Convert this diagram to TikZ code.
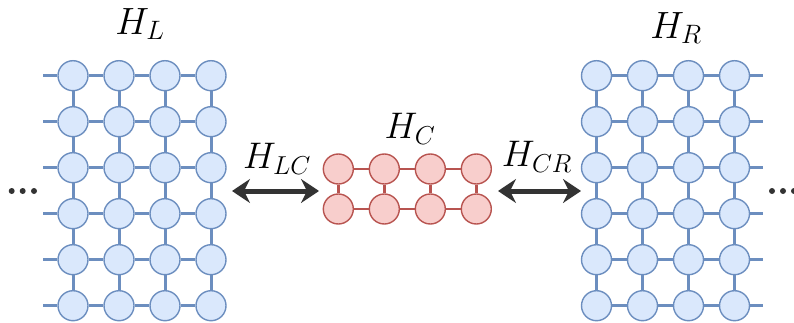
\RequirePackage{fix-cm}
\documentclass[tikz,border=0pt]{standalone}
\usetikzlibrary{arrows.meta}
\definecolor{bfill}{HTML}{DAE8FC}
\definecolor{bline}{HTML}{6C8EBF}
\definecolor{rfill}{HTML}{F8CECC}
\definecolor{rline}{HTML}{B85450}
\definecolor{dark}{HTML}{333333}
\tikzset{
  bsite/.style={circle, minimum size=30pt, inner sep=0pt, fill=bfill, draw=bline, line width=1.4pt},
  rsite/.style={circle, minimum size=30pt, inner sep=0pt, fill=rfill, draw=rline, line width=1.4pt},
  bbond/.style={draw=bline, line width=3pt},
  rbond/.style={draw=rline, line width=2.8pt},
  coup/.style={draw=dark, line width=5pt, {Stealth[length=18pt,width=24pt,inset=6pt]}-{Stealth[length=18pt,width=24pt,inset=6pt]}},
  biglbl/.style={font=\fontsize{38}{44}\selectfont, inner sep=0pt},
  lbl/.style={font=\fontsize{37}{42}\selectfont, inner sep=0pt},
}
\begin{document}
\begin{tikzpicture}[x=1pt,y=-1pt]
\useasboundingbox (0,0) rectangle (794,323);
% lattices
\foreach \c/\x in {1/73,2/119,3/165,4/211}{
  \foreach \r/\y in {1/75.7,2/121.7,3/167.7,4/213.7,5/259.7,6/305.7}{
    \node[bsite] (L-\c-\r) at (\x,\y) {};
    \node[bsite] (R-\c-\r) at (\x+523.5,\y) {};
  }}
\foreach \r/\y in {1/75.7,2/121.7,3/167.7,4/213.7,5/259.7,6/305.7}{
  \coordinate (Ls-\r) at (43,\y);
  \coordinate (Rs-\r) at (763,\y);
  \draw[bbond] (Ls-\r) -- (L-1-\r);
  \draw[bbond] (R-4-\r) -- (Rs-\r);
}
\foreach \c [evaluate=\c as \n using int(\c+1)] in {1,2,3}{
  \foreach \r in {1,...,6}{
    \draw[bbond] (L-\c-\r) -- (L-\n-\r);
    \draw[bbond] (R-\c-\r) -- (R-\n-\r);
  }}
\foreach \c in {1,...,4}{
  \foreach \r [evaluate=\r as \m using int(\r+1)] in {1,...,5}{
    \draw[bbond] (L-\c-\r) -- (L-\c-\m);
    \draw[bbond] (R-\c-\r) -- (R-\c-\m);
  }}
% center
\foreach \c/\x in {1/338.3,2/384.3,3/430.3,4/476.3}{
  \node[rsite] (C-\c-1) at (\x,169) {};
  \node[rsite] (C-\c-2) at (\x,209) {};
  \draw[rbond] (C-\c-1) -- (C-\c-2);
}
\foreach \c [evaluate=\c as \n using int(\c+1)] in {1,2,3}{
  \draw[rbond] (C-\c-1) -- (C-\n-1);
  \draw[rbond] (C-\c-2) -- (C-\n-2);
}
% labels
\node[biglbl] (HL) at (140,24) {$H_L$};
\node[biglbl] (HR) at (676,28) {$H_R$};
\node[lbl] (HC) at (410,129) {$H_C$};
\node[lbl] (HLC) at (277,159) {$H_{LC}$};
\node[lbl] (HCR) at (537,157) {$H_{CR}$};
% couplings
\coordinate (a1) at (232,191);
\coordinate (a2) at (319,191);
\coordinate (b1) at (498,191);
\coordinate (b2) at (581,191);
\draw[coup] (a1) -- (a2);
\draw[coup] (b1) -- (b2);
% ellipses
\foreach \x in {11.7,22.7,34}{\fill[dark] (\x,191) circle (3pt);}
\foreach \x in {772,783,794}{\fill[dark] (\x,191) circle (3pt);}
\end{tikzpicture}
\end{document}
